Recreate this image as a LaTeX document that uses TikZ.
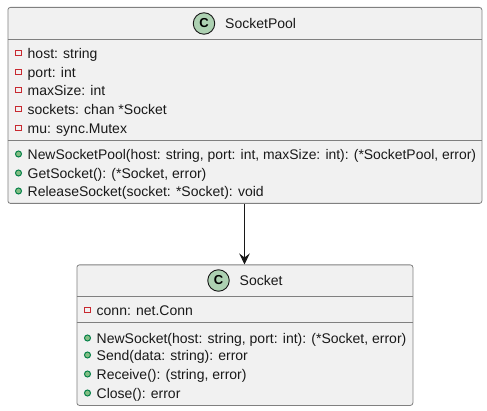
\documentclass[tikz,border=0pt]{standalone}
\usepackage{fontspec}
\setmainfont{Liberation Sans}
\usepackage{xcolor}
\usetikzlibrary{arrows.meta,positioning}
\definecolor{boxfill}{HTML}{F1F1F1}
\definecolor{boxline}{HTML}{181818}
\definecolor{classgreen}{HTML}{ADD1B2}
\definecolor{privred}{HTML}{C82930}
\definecolor{pubgreen}{HTML}{038048}
\definecolor{pubfill}{HTML}{84BE84}
\tikzset{
    classbox/.style={draw=boxline!55, fill=boxfill, line width=0.8pt, rounded corners=2.5pt, inner sep=0pt, anchor=north west},
    classmark/.style={circle, draw=boxline, fill=classgreen, line width=0.9pt, minimum size=21.5pt, inner sep=0pt, font=\fontsize{13}{13}\selectfont\bfseries},
    title/.style={inner sep=0pt, anchor=base west, font=\fontsize{14}{14}\selectfont, text=black!90},
    member/.style={inner sep=0pt, anchor=base west, font=\fontsize{14}{14}\selectfont, text=black!90},
    privmark/.style={rectangle, draw=privred, line width=1pt, minimum size=5.5pt, inner sep=0pt},
    pubmark/.style={circle, draw=pubgreen, fill=pubfill, line width=1pt, minimum size=6pt, inner sep=0pt},
    sepline/.style={draw=boxline!55, line width=0.8pt},
}
\begin{document}
\begin{tikzpicture}[x=1pt, y=-1pt]
    \useasboundingbox (0,0) rectangle (487,411);

    % SocketPool class
    \node[classbox, minimum width=474pt, minimum height=196pt] (poolbox) at (7.5,7) {};
    \node[classmark] (poolmark) at (204,23.5) {C};
    \node[title] (pooltitle) at (225,28.5) {SocketPool};
    \draw[sepline] (7.5,39.5) -- (481.5,39.5);
    \draw[sepline] (7.5,140.5) -- (481.5,140.5);
    \foreach \y/\label in {58.5/{host: string}, 77.5/{port: int}, 95.5/{maxSize: int}, 114.5/{sockets: chan *Socket}, 133.5/{mu: sync.Mutex}} {
        \node[privmark] (pa\y) at (18.5,\y-5.5) {};
        \node[member] (pt\y) at (27.5,\y) {\label};
    }
    \foreach \y/\label in {159.5/{\fontsize{13.92}{14}\selectfont NewSocketPool(host: string, port: int, maxSize: int): (*SocketPool, error)}, 178.5/{GetSocket(): (*Socket, error)}, 196.5/{ReleaseSocket(socket: *Socket): void}} {
        \node[pubmark] (pm\y) at (18.5,\y-5.5) {};
        \node[member] (pn\y) at (27.5,\y) {\label};
    }

    % Socket class
    \node[classbox, minimum width=336pt, minimum height=140.5pt] (sockbox) at (76.5,264.5) {};
    \node[classmark] (sockmark) at (218.5,280.5) {C};
    \node[title] (socktitle) at (239.5,285.5) {Socket};
    \draw[sepline] (76.5,296.5) -- (412.5,296.5);
    \draw[sepline] (76.5,322.5) -- (412.5,322.5);
    \node[privmark] (sa) at (87.5,310) {};
    \node[member] (st) at (96.5,315.5) {conn: net.Conn};
    \foreach \y/\label in {343.5/{NewSocket(host: string, port: int): (*Socket, error)}, 360.5/{Send(data: string): error}, 379.5/{Receive(): (string, error)}, 398.5/{Close(): error}} {
        \node[pubmark] (sm\y) at (87.5,\y-5.5) {};
        \node[member] (sn\y) at (96.5,\y) {\label};
    }

    % Association
    \draw[-{Stealth[length=11pt, width=10.5pt, inset=4pt]}, boxline, line width=1pt] (poolbox.south -| 244.5,0) -- (sockbox.north -| 244.5,0);
\end{tikzpicture}
\end{document}
